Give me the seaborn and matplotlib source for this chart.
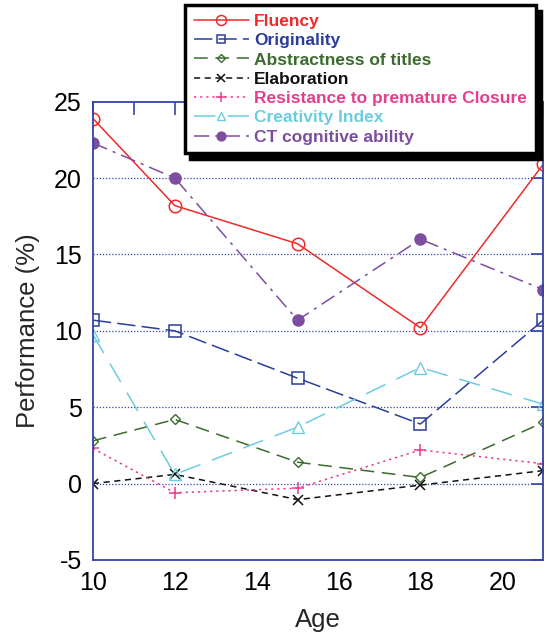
import matplotlib
matplotlib.use("Agg")
import matplotlib.pyplot as plt
import seaborn as sns
from matplotlib.ticker import MultipleLocator

sns.set_style("white")
plt.rcParams['font.family'] = ['Liberation Sans', 'DejaVu Sans']

ages = [10, 12, 15, 18, 21]
fluency = [23.9, 18.2, 15.7, 10.2, 20.9]
originality = [10.7, 10.0, 6.9, 3.9, 10.7]
abstractness = [2.8, 4.2, 1.4, 0.4, 4.0]
elaboration = [0.0, 0.6, -1.05, -0.1, 0.85]
resistance = [2.3, -0.6, -0.3, 2.2, 1.3]
creativity = [9.75, 0.6, 3.7, 7.6, 5.2]
ct_cognitive = [22.3, 20.0, 10.7, 16.0, 12.7]

series_names = ["Fluency", "Originality", "Abstractness of titles", "Elaboration",
                "Resistance to premature Closure", "Creativity Index", "CT cognitive ability"]
series_values = [fluency, originality, abstractness, elaboration, resistance, creativity, ct_cognitive]

styles = [
    dict(color="#ee2a2a", linestyle="-", marker="o", mfc="none", ms=9, mew=1.1),
    dict(color="#2b3d9c", linestyle=(0, (12, 4)), marker="s", mfc="none", ms=8, mew=1.1),
    dict(color="#3b6b2e", linestyle=(0, (9, 5)), marker="D", mfc="none", ms=5, mew=1.0),
    dict(color="#111111", linestyle=(0, (4, 3)), marker="x", mfc="none", ms=7, mew=1.1),
    dict(color="#e83c8e", linestyle=(0, (1.5, 2.5)), marker="+", mfc="none", ms=9, mew=1.1),
    dict(color="#6ccde0", linestyle=(0, (14, 8)), marker="^", mfc="none", ms=8, mew=1.0),
    dict(color="#7d4ea0", linestyle=(0, (10, 4, 2, 4)), marker="o", mfc="#7d4ea0", ms=8, mew=1.0),
]

fig = plt.figure(figsize=(5.47, 6.32), dpi=100)
ax = fig.add_axes([0.170, 0.114, 0.823, 0.725])

for name, vals, st in zip(series_names, series_values, styles):
    sns.lineplot(x=ages, y=vals, ax=ax, label=name, lw=1.1,
                 markeredgecolor=st["color"], **st)

ax.set_xlim(10, 21)
ax.set_ylim(-5, 25)
ax.xaxis.set_major_locator(MultipleLocator(2))
ax.xaxis.set_minor_locator(MultipleLocator(1))
ax.set_yticks([-5, 0, 5, 10, 15, 20, 25])
ax.set_yticklabels(["-5", "0", "5", "10", "15", "20", "25"])

frame_col = "#3444a4"
for sp in ax.spines.values():
    sp.set_color(frame_col)
    sp.set_linewidth(1.3)
ax.tick_params(which="both", direction="in", top=True, right=True, color=frame_col,
               labelsize=18, labelcolor="black")
ax.tick_params(which="major", length=9, width=1.2, pad=8)
ax.tick_params(which="minor", length=9, width=1.2)

for yv in [0, 5, 10, 15, 20]:
    ax.axhline(yv, color=frame_col, lw=0.9, linestyle=(0, (1, 1.5)), zorder=0)

ax.set_xlabel("Age", fontsize=18.5, labelpad=9)
ax.set_ylabel("Performance (%)", fontsize=18.5, labelpad=10)

leg = ax.legend(loc="upper left", bbox_to_anchor=(0.338, 0.992), bbox_transform=fig.transFigure,
                frameon=True, fancybox=False,
                shadow={"ox": 4, "oy": -4, "color": "black", "alpha": 1.0},
                handlelength=3.2, handletextpad=0.3, markerscale=0.8,
                borderpad=0.5, labelspacing=0.24, fontsize=12.5, borderaxespad=0,
                framealpha=1.0)
frame = leg.get_frame()
frame.set_edgecolor("black")
frame.set_linewidth(2.5)
for txt, st in zip(leg.get_texts(), styles):
    txt.set_color(st["color"])
    txt.set_fontweight("bold")
leg.set_zorder(10)

fig.savefig("out.png", dpi=100)
